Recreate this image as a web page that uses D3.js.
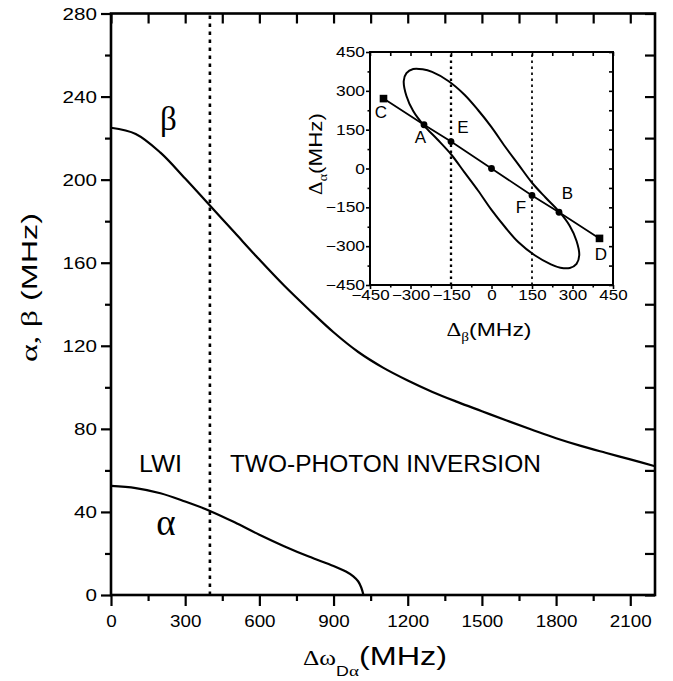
<!DOCTYPE html>
<html>
<head>
<meta charset="utf-8">
<script src="https://cdn.jsdelivr.net/npm/d3@7"></script>
<style>
body { margin: 0; background: #fff; }
</style>
</head>
<body>
<script>
// ---- main plot data ----
var detuning = [0, 100, 200, 300, 400, 500, 600, 700, 800, 900, 1000, 1100, 1200, 1300, 1400, 1500, 1600, 1700, 1800, 1900, 2000, 2100, 2200];
var betaVals = [225, 222, 213, 200.5, 187.5, 174.5, 161.5, 149, 137.5, 126.5, 117, 109.5, 103.3, 97.8, 93, 88.5, 84, 79.7, 75.5, 71.8, 68.5, 65.3, 62];
var alphaDetuning = [0, 100, 200, 300, 400, 500, 600, 700, 800, 900, 950, 980, 1000, 1012, 1021];
var alphaVals = [52.5, 51.5, 49, 45, 40.5, 35, 29, 23.5, 18.5, 14, 11.3, 9, 6.5, 3.6, 0];
var boundary = 400;
var xMajor = [0, 300, 600, 900, 1200, 1500, 1800, 2100];
var xMinor = [150, 450, 750, 1050, 1350, 1650, 1950];
var yMajor = [0, 40, 80, 120, 160, 200, 240, 280];
var yMinor = [20, 60, 100, 140, 180, 220, 260];
var regionLabels = ["LWI", "TWO-PHOTON INVERSION"];

// ---- inset data ----
var ptNames = ["C", "A", "E", "", "F", "B", "D"];
var ptX = [-400, -250, -150, 0, 150, 250, 400];
var ptY = [270, 169, 104, 0, -104, -169, -270];
var ptSquare = [true, false, false, false, false, false, true];
var loopX = [-325, -315, -290, -255, -220, -160, -100, -50, 0, 50, 100, 150, 200, 250, 290, 315, 325,
             315, 290, 255, 220, 160, 100, 50, 0, -50, -100, -150, -200, -250, -290, -315];
var loopY = [338, 368, 384, 383, 373, 338, 285, 226, 160, 85, 15, -55, -112, -166, -222, -280, -335,
             -368, -384, -383, -370, -335, -285, -226, -160, -85, -15, 55, 112, 166, 222, 280];
var insetGuides = [-150, 150];
var insetTicks = [-450, -300, -150, 0, 150, 300, 450];
var insetMinor = [-375, -225, -75, 75, 225, 375];

var sans = "'Liberation Sans', Arial, Helvetica, sans-serif";
var serif = "'Liberation Serif', 'Times New Roman', serif";

var svg = d3.select("body").append("svg").attr("width", 673).attr("height", 681);

var x = d3.scaleLinear().domain([0, 2200]).range([111, 655]);
var y = d3.scaleLinear().domain([0, 280]).range([595, 13.5]);

function place(parent, px, py, rot, anchor, parts, width) {
	var t = parent.append("text").attr("text-anchor", anchor).attr("fill", "#000");
	parts.forEach(function(p){
		var s = t.append("tspan").text(p.t).attr("font-family", p.f).attr("font-size", p.s);
		if (p.dy) s.attr("dy", p.dy);
	});
	var k = width ? width / t.node().getComputedTextLength() : 1;
	t.attr("transform", "translate(" + px + "," + py + ") rotate(" + rot + ") scale(" + k + ",1)");
	return t;
}

function styleAxis(g, fs, sw) {
	g.select(".domain").remove();
	g.attr("font-family", sans).attr("font-size", fs);
	g.selectAll("line").attr("stroke-width", sw);
	return g;
}

// ---- main axes ----
var gxb = svg.append("g").attr("transform", "translate(0," + y(0) + ")")
	.call(d3.axisBottom(x).tickValues(xMajor).tickSize(11).tickFormat(d3.format("d")));
styleAxis(gxb, 16.5, 2.2);
gxb.selectAll("text").attr("y", 32).attr("dy", null).attr("transform", "scale(1.14,1)");

var gxm = svg.append("g").attr("transform", "translate(0," + y(0) + ")")
	.call(d3.axisBottom(x).tickValues(xMinor).tickSize(6).tickFormat(""));
styleAxis(gxm, 16.5, 2.2);

var gyl = svg.append("g").attr("transform", "translate(" + x(0) + ",0)")
	.call(d3.axisLeft(y).tickValues(yMajor).tickSize(10).tickFormat(d3.format("d")));
styleAxis(gyl, 16.5, 2.2);
gyl.selectAll("text").attr("x", -14 / 1.25).attr("dy", "0.36em").attr("transform", "scale(1.25,1)");

var gym = svg.append("g").attr("transform", "translate(" + x(0) + ",0)")
	.call(d3.axisLeft(y).tickValues(yMinor).tickSize(6).tickFormat(""));
styleAxis(gym, 16.5, 2.2);

var gxt = svg.append("g").attr("transform", "translate(0," + y(280) + ")")
	.call(d3.axisTop(x).tickValues(xMajor.concat(xMinor)).tickSize(-10).tickFormat(""));
styleAxis(gxt, 16.5, 2.2);

var gyr = svg.append("g").attr("transform", "translate(" + x(2200) + ",0)")
	.call(d3.axisRight(y).tickValues(yMajor.concat(yMinor)).tickSize(-10).tickFormat(""));
styleAxis(gyr, 16.5, 2.2);

svg.append("rect")
	.attr("x", x(0)).attr("y", y(280))
	.attr("width", x(2200) - x(0)).attr("height", y(0) - y(280))
	.attr("fill", "none").attr("stroke", "#000").attr("stroke-width", 2.6);

// boundary between LWI and two-photon inversion
svg.append("line")
	.attr("x1", x(boundary)).attr("x2", x(boundary))
	.attr("y1", y(0)).attr("y2", y(280))
	.attr("stroke", "#000").attr("stroke-width", 2.6).attr("stroke-dasharray", "3.5,4.5");

var line = d3.line().x(d => x(d[0])).y(d => y(d[1])).curve(d3.curveCatmullRom.alpha(0.5));

svg.append("path")
	.datum(d3.zip(detuning, betaVals))
	.attr("d", line)
	.attr("fill", "none").attr("stroke", "#000").attr("stroke-width", 2.2);

svg.append("path")
	.datum(d3.zip(alphaDetuning, alphaVals))
	.attr("d", line)
	.attr("fill", "none").attr("stroke", "#000").attr("stroke-width", 2.2);

// labels in the main plot
place(svg, x(boundary / 2), y(59.3), 0, "middle", [{t: regionLabels[0], f: sans, s: 23}], 43);
place(svg, x(boundary) + 20, y(59.3), 0, "start", [{t: regionLabels[1], f: sans, s: 23}], 311);
place(svg, 168.5, y(224), 0, "middle", [{t: "\u03B2", f: serif, s: 33}]);
place(svg, 166, y(29), 0, "middle", [{t: "\u03B1", f: serif, s: 37}]);

// axis titles
place(svg, 375, 665, 0, "middle", [
	{t: "\u0394\u03C9", f: serif, s: 20},
	{t: "D", f: sans, s: 14, dy: 11},
	{t: "\u03B1", f: serif, s: 15},
	{t: "(MHz)", f: sans, s: 25.5, dy: -11}
], 144);
place(svg, 37, 287.5, -90, "middle", [
	{t: "\u03B1, \u03B2", f: serif, s: 23},
	{t: " (MHz)", f: sans, s: 22}
], 149);

// ---- inset ----
var ix = d3.scaleLinear().domain([-450, 450]).range([370, 613]);
var iy = d3.scaleLinear().domain([-450, 450]).range([285, 52]);
var inset = svg.append("g");

inset.append("rect")
	.attr("x", ix(-450)).attr("y", iy(450))
	.attr("width", ix(450) - ix(-450)).attr("height", iy(-450) - iy(450))
	.attr("fill", "#fff");

var ixb = inset.append("g").attr("transform", "translate(0," + iy(-450) + ")")
	.call(d3.axisBottom(ix).tickValues(insetTicks).tickSize(4).tickFormat(d3.format("d")));
styleAxis(ixb, 14.5, 1.6);
ixb.selectAll("text").attr("y", 15.5).attr("dy", null).attr("transform", "scale(1.17,1)");
var ixbm = inset.append("g").attr("transform", "translate(0," + iy(-450) + ")")
	.call(d3.axisBottom(ix).tickValues(insetMinor).tickSize(2.5).tickFormat(""));
styleAxis(ixbm, 14.5, 1.6);

var iyl = inset.append("g").attr("transform", "translate(" + ix(-450) + ",0)")
	.call(d3.axisLeft(iy).tickValues(insetTicks).tickSize(4).tickFormat(d3.format("d")));
styleAxis(iyl, 14.5, 1.6);
iyl.selectAll("text").attr("x", -5 / 1.2).attr("dy", "0.32em").attr("transform", "scale(1.2,1)");
var iylm = inset.append("g").attr("transform", "translate(" + ix(-450) + ",0)")
	.call(d3.axisLeft(iy).tickValues(insetMinor).tickSize(2.5).tickFormat(""));
styleAxis(iylm, 14.5, 1.6);

var ixt = inset.append("g").attr("transform", "translate(0," + iy(450) + ")")
	.call(d3.axisTop(ix).tickValues(insetTicks.concat(insetMinor)).tickSize(-4).tickFormat(""));
styleAxis(ixt, 14.5, 1.6);
var iyr = inset.append("g").attr("transform", "translate(" + ix(450) + ",0)")
	.call(d3.axisRight(iy).tickValues(insetTicks.concat(insetMinor)).tickSize(-4).tickFormat(""));
styleAxis(iyr, 14.5, 1.6);

inset.append("rect")
	.attr("x", ix(-450)).attr("y", iy(450))
	.attr("width", ix(450) - ix(-450)).attr("height", iy(-450) - iy(450))
	.attr("fill", "none").attr("stroke", "#000").attr("stroke-width", 2);

inset.selectAll("line.guide")
	.data(insetGuides)
	.enter().append("line").classed("guide", true)
	.attr("x1", d => ix(d)).attr("x2", d => ix(d))
	.attr("y1", iy(-450)).attr("y2", iy(450))
	.attr("stroke", "#000")
	.attr("stroke-width", (d, i) => i ? 1.7 : 2.3)
	.attr("stroke-dasharray", "2.5,3.5");

inset.append("path")
	.datum(d3.zip(loopX, loopY))
	.attr("d", d3.line().x(d => ix(d[0])).y(d => iy(d[1])).curve(d3.curveCatmullRomClosed))
	.attr("fill", "none").attr("stroke", "#000").attr("stroke-width", 2);

var pts = d3.zip(ptX, ptY, ptNames, ptSquare);
inset.append("path")
	.datum(pts)
	.attr("d", d3.line().x(d => ix(d[0])).y(d => iy(d[1])))
	.attr("fill", "none").attr("stroke", "#000").attr("stroke-width", 1.8);

inset.selectAll("circle.pt")
	.data(pts.filter(d => !d[3]))
	.enter().append("circle").classed("pt", true)
	.attr("cx", d => ix(d[0])).attr("cy", d => iy(d[1])).attr("r", 3.4)
	.attr("fill", "#000");

inset.selectAll("rect.pt")
	.data(pts.filter(d => d[3]))
	.enter().append("rect").classed("pt", true)
	.attr("x", d => ix(d[0]) - 3.8).attr("y", d => iy(d[1]) - 3.8)
	.attr("width", 7.6).attr("height", 7.6)
	.attr("fill", "#000");

// label offsets (px) from each marker
var labelDx = [-2.5, -3.5, 12, 0, -11, 8.5, 1.5];
var labelDy = [19.5, 18.5, -9, 0, 17.5, -13, 21.5];
pts.forEach(function(d, i){
	if (!d[2]) return;
	place(inset, ix(d[0]) + labelDx[i], iy(d[1]) + labelDy[i], 0, "middle", [{t: d[2], f: sans, s: 17}]);
});

place(inset, 489, 336, 0, "middle", [
	{t: "\u0394", f: serif, s: 18},
	{t: "\u03B2", f: serif, s: 12, dy: 5},
	{t: "(MHz)", f: sans, s: 18, dy: -5}
], 85);
place(inset, 322, 154, -90, "middle", [
	{t: "\u0394", f: serif, s: 18},
	{t: "\u03B1", f: serif, s: 12, dy: 5},
	{t: "(MHz)", f: sans, s: 19, dy: -5}
], 82);
</script>
</body>
</html>
